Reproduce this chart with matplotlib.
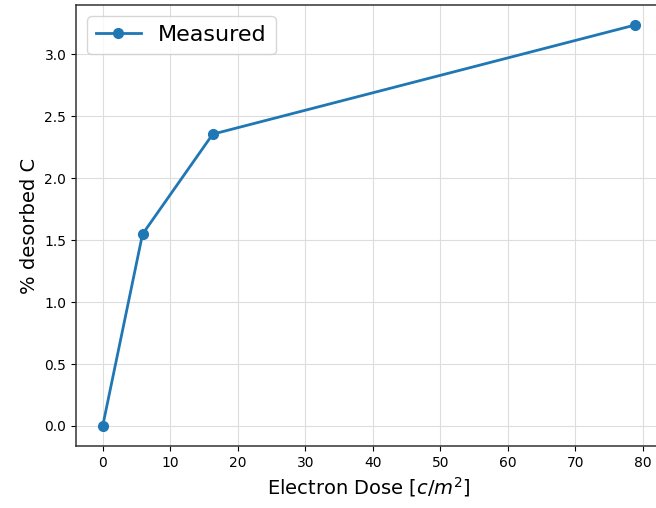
import matplotlib
matplotlib.use("Agg")
import matplotlib.pyplot as plt

# measured desorption vs electron dose
dose = [0.0, 5.9, 16.3, 78.8]
desorbed = [0.0, 1.548, 2.355, 3.235]

fig = plt.figure(figsize=(6.56, 5.08), dpi=100)
ax = fig.add_axes([0.116, 0.122, 0.892, 0.868])

ax.plot(dose, desorbed, "-o", color="#1f77b4", lw=2, ms=7, label="Measured")

ax.set_xticks(range(0, 81, 10))
ax.set_yticks([0.0, 0.5, 1.0, 1.5, 2.0, 2.5, 3.0])
ax.tick_params(labelsize=10)
ax.grid(True, color="#dddddd", lw=0.8)
for s in ax.spines.values():
    s.set_color("#333333")
    s.set_linewidth(1.1)

ax.set_xlabel(r"Electron Dose [$c/m^2$]", fontsize=14)
ax.set_ylabel("% desorbed C", fontsize=14)
ax.legend(loc="upper left", fontsize=16)

fig.savefig("out.png", dpi=100)
